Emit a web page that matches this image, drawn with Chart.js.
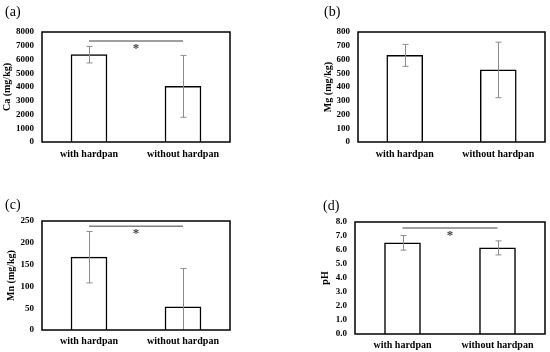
<!DOCTYPE html>
<html>
<head>
<meta charset="utf-8">
<script src="https://cdn.jsdelivr.net/npm/chart.js@4.4.1/dist/chart.umd.min.js"></script>
<style>
  html, body { margin: 0; padding: 0; background: #fff; }
  #wrap { position: relative; width: 550px; height: 352px; overflow: hidden; }
  .panel { position: absolute; width: 275px; height: 176px; }
</style>
</head>
<body>
<div id="wrap">
  <div class="panel" style="left:0;top:0"><canvas id="ca" width="275" height="176"></canvas></div>
  <div class="panel" style="left:275px;top:0"><canvas id="mg" width="275" height="176"></canvas></div>
  <div class="panel" style="left:0;top:176px"><canvas id="mn" width="275" height="176"></canvas></div>
  <div class="panel" style="left:275px;top:176px"><canvas id="ph" width="275" height="176"></canvas></div>
</div>
<script>
// ---- data ----
const categories = ['with hardpan', 'without hardpan'];

const caMeans = [6350, 4050];
const caErrors = [600, 2250];
const caTicks = { min: 0, max: 8000, step: 1000 };
const caSignificance = 7350; // y-level of the "*" bracket, null when not significant

const mgMeans = [630, 524];
const mgErrors = [80, 202];
const mgTicks = { min: 0, max: 800, step: 100 };
const mgSignificance = null;

const mnMeans = [167, 53];
const mnErrors = [59, 88];
const mnTicks = { min: 0, max: 250, step: 50 };
const mnSignificance = 238;

const phMeans = [6.51, 6.15];
const phErrors = [0.52, 0.5];
const phTicks = { min: 0, max: 8, step: 1 };
const phSignificance = 7.57;

// ---- drawing ----
const SERIF = '"Liberation Serif", "Times New Roman", serif';

const extrasPlugin = {
  id: 'extras',
  afterDatasetsDraw(chart, args, opts) {
    const { ctx, chartArea: a, scales: { x, y } } = chart;
    const ds = chart.data.datasets[0];
    const errs = opts.errors;
    ctx.save();
    // error bars
    ctx.strokeStyle = '#8c8c8c';
    ctx.lineWidth = 1;
    ds.data.forEach((v, i) => {
      const cx = Math.round(x.getPixelForValue(i)) + 0.5;
      const yTop = y.getPixelForValue(v + errs[i]);
      const lowVal = v - errs[i];
      const yBot = y.getPixelForValue(Math.max(lowVal, y.min));
      ctx.beginPath();
      ctx.moveTo(cx, yTop); ctx.lineTo(cx, yBot);
      ctx.moveTo(cx - 3, yTop); ctx.lineTo(cx + 3, yTop);
      if (lowVal >= y.min) { ctx.moveTo(cx - 3, yBot); ctx.lineTo(cx + 3, yBot); }
      ctx.stroke();
    });
    // significance bracket
    if (opts.sig !== null && opts.sig !== undefined) {
      const x0 = x.getPixelForValue(0), x1 = x.getPixelForValue(1);
      const sy = y.getPixelForValue(opts.sig);
      ctx.strokeStyle = '#808080';
      ctx.lineWidth = 1.5;
      ctx.beginPath();
      ctx.moveTo(x0, sy); ctx.lineTo(x1, sy);
      ctx.stroke();
      ctx.fillStyle = '#404040';
      ctx.font = 'bold 13px ' + SERIF;
      ctx.textAlign = 'center';
      ctx.textBaseline = 'top';
      ctx.fillText('*', (x0 + x1) / 2, sy + 1);
    }
    // plot-area frame
    ctx.strokeStyle = '#000';
    ctx.lineWidth = 1.5;
    ctx.strokeRect(a.left, a.top, a.right - a.left, a.bottom - a.top);
    // panel label
    ctx.fillStyle = '#000';
    ctx.font = '14px ' + SERIF;
    ctx.textAlign = 'left';
    ctx.textBaseline = 'middle';
    ctx.fillText(opts.label, opts.labelX, opts.labelY);
    ctx.restore();
  }
};

function makePanel(id, means, errors, ticks, sig, yTitle, box, label, decimals) {
  new Chart(document.getElementById(id), {
    type: 'bar',
    data: {
      labels: categories,
      datasets: [{
        data: means,
        backgroundColor: '#ffffff',
        borderColor: '#000000',
        borderWidth: 1.5,
        barThickness: 36
      }]
    },
    options: {
      responsive: false,
      animation: false,
      layout: { padding: { left: 0, right: 275 - box.right, top: box.top, bottom: 0 } },
      plugins: {
        legend: { display: false },
        tooltip: { enabled: false },
        extras: { errors: errors, sig: sig, label: label, labelX: box.labelX, labelY: box.labelY }
      },
      scales: {
        x: {
          grid: { display: false, drawTicks: false },
          border: { display: false },
          ticks: { color: '#000', padding: box.xPad, font: { family: SERIF, size: 10, weight: 'bold' } },
          afterFit: (s) => { s.height = 176 - box.bottom; }
        },
        y: {
          min: ticks.min, max: ticks.max,
          grid: { display: false, drawTicks: false },
          border: { display: false },
          ticks: {
            stepSize: ticks.step, color: '#000', padding: 8, autoSkip: false,
            font: { family: SERIF, size: 9, weight: 'bold' },
            callback: (v) => decimals ? Number(v).toFixed(decimals) : String(v)
          },
          title: {
            display: true, text: yTitle, color: '#000',
            font: { family: SERIF, size: 10, weight: 'bold' },
            padding: { top: box.titlePad, bottom: 0 }
          },
          afterFit: (s) => { s.width = box.left; }
        }
      }
    },
    plugins: [extrasPlugin]
  });
}

makePanel('ca', caMeans, caErrors, caTicks, caSignificance, 'Ca (mg/kg)',
  { left: 42, right: 230, top: 32, bottom: 142, titlePad: 1, xPad: 6, labelX: 5, labelY: 12 }, '(a)', 0);
makePanel('mg', mgMeans, mgErrors, mgTicks, mgSignificance, 'Mg (mg/kg)',
  { left: 83, right: 270, top: 32, bottom: 142, titlePad: 47, xPad: 6, labelX: 49, labelY: 12 }, '(b)', 0);
makePanel('mn', mnMeans, mnErrors, mnTicks, mnSignificance, 'Mn (mg/kg)',
  { left: 42, right: 230, top: 45, bottom: 154, titlePad: 5, xPad: 5, labelX: 5, labelY: 29 }, '(c)', 0);
makePanel('ph', phMeans, phErrors, phTicks, phSignificance, 'pH',
  { left: 80, right: 270, top: 46, bottom: 158, titlePad: 44, xPad: 5, labelX: 48, labelY: 30 }, '(d)', 1);
</script>
</body>
</html>
